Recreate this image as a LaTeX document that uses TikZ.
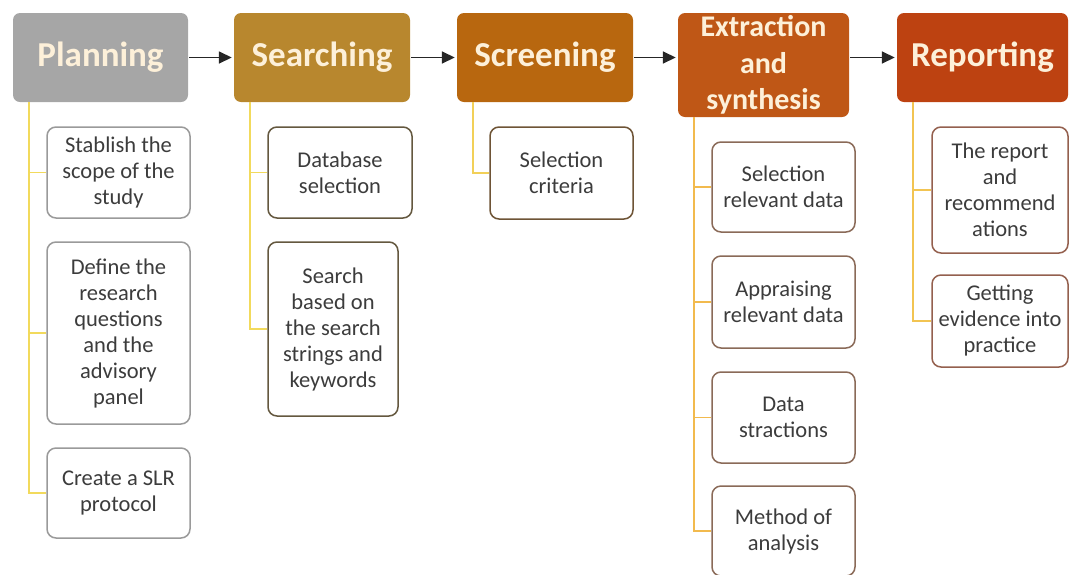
\documentclass[tikz,border=0pt]{standalone}
\usepackage{fontspec}
\setmainfont{Carlito}
\usetikzlibrary{arrows.meta}

\definecolor{plangray}{HTML}{A6A6A6}
\definecolor{searchgold}{HTML}{B8872E}
\definecolor{screenbrown}{HTML}{B8670F}
\definecolor{extractorange}{HTML}{BF5716}
\definecolor{reportred}{HTML}{BD4211}
\definecolor{phasetext}{HTML}{FDF0D9}
\definecolor{tasktext}{HTML}{3C3C3C}
\definecolor{paleyellow}{HTML}{F2DA5C}
\definecolor{amber}{HTML}{F2BA4E}
\definecolor{planedge}{HTML}{9A9A9A}
\definecolor{searchedge}{HTML}{64583F}
\definecolor{screenedge}{HTML}{6E5436}
\definecolor{extractedge}{HTML}{8A6A58}
\definecolor{reportedge}{HTML}{94604E}

\tikzset{
  phase/.style={fill=#1, rounded corners=7pt, text=phasetext, align=center,
    inner sep=0pt, font=\bfseries\fontsize{35}{42}\selectfont},
  task/.style={draw=#1, line width=1.5pt, fill=white, rounded corners=9pt,
    text=tasktext, align=center, inner sep=0pt,
    font=\fontsize{22.5}{26}\selectfont},
  branch/.style={draw=#1, line width=1.8pt},
  flow/.style={-{Triangle[length=13pt,width=12pt]}, line width=1.6pt,
    draw=black!85, shorten <=1pt, shorten >=2pt}
}

\begin{document}
\begin{tikzpicture}[x=1pt, y=-1pt]
\useasboundingbox (0,0) rectangle (1071,574);

% the five phases
\node[phase=plangray, minimum width=175, minimum height=89] (plan) at (100.5,57.5) {Planning};
\node[phase=searchgold, minimum width=176, minimum height=89] (search) at (322,57.5) {Searching};
\node[phase=screenbrown, minimum width=176, minimum height=89] (screen) at (545,57.5) {Screening};
\node[phase=extractorange, minimum width=171, minimum height=104,
      font=\bfseries\fontsize{30}{36.5}\selectfont] (extract) at (763.5,65) {Extraction\\and\\synthesis};
\node[phase=reportred, minimum width=171, minimum height=89] (report) at (982.5,57.5) {Reporting};

\draw[flow] (plan) -- (search);
\draw[flow] (search) -- (screen);
\draw[flow] (screen.east) -- (screen.east -| extract.west);
\draw[flow] (extract.east |- report) -- (report.west);

%%%%%%%%%%%%%%%%%%%%%%%%%%%%%%%%%%%%%%%%

% Planning
\node[task=planedge, minimum width=143, minimum height=91] (plan1) at (118.5,172.5) {Stablish the\\scope of the\\study};
\node[task=planedge, minimum width=143, minimum height=182] (plan2) at (118.5,333) {Define the\\research\\questions\\and the\\advisory\\panel};
\node[task=planedge, minimum width=143, minimum height=90] (plan3) at (118.5,493) {Create a SLR\\protocol};
\foreach \t in {plan1,plan2,plan3}
  \draw[branch=paleyellow] ([xshift=16]plan.south west) |- (\t.west);

% Searching
\node[task=searchedge, minimum width=144, minimum height=91] (search1) at (340,172.5) {Database\\selection};
\node[task=searchedge, minimum width=130, minimum height=174] (search2) at (333,329) {Search\\based on\\the search\\strings and\\keywords};
\foreach \t in {search1,search2}
  \draw[branch=paleyellow] ([xshift=16]search.south west) |- (\t.west);

% Screening
\node[task=screenedge, minimum width=143, minimum height=92] (screen1) at (561.5,173) {Selection\\criteria};
\draw[branch=paleyellow!70!amber] ([xshift=16]screen.south west) |- (screen1.west);

% Extraction and synthesis
\node[task=extractedge, minimum width=143, minimum height=90] (extract1) at (783.5,187) {Selection\\relevant data};
\node[task=extractedge, minimum width=143, minimum height=92] (extract2) at (783.5,302) {Appraising\\relevant data};
\node[task=extractedge, minimum width=143, minimum height=91] (extract3) at (783.5,417.5) {Data\\stractions};
\node[task=extractedge, minimum width=143, minimum height=90] (extract4) at (783.5,531) {Method of\\analysis};
\foreach \t in {extract1,extract2,extract3,extract4}
  \draw[branch=amber] ([xshift=16]extract.south west) |- (\t.west);

% Reporting
\node[task=reportedge, minimum width=136, minimum height=126] (report1) at (1000,190) {The report\\and\\recommend\\ations};
\node[task=reportedge, minimum width=136, minimum height=92] (report2) at (1000,321) {Getting\\evidence into\\practice};
\foreach \t in {report1,report2}
  \draw[branch=amber!70!paleyellow] ([xshift=16]report.south west) |- (\t.west);

\end{tikzpicture}
\end{document}
